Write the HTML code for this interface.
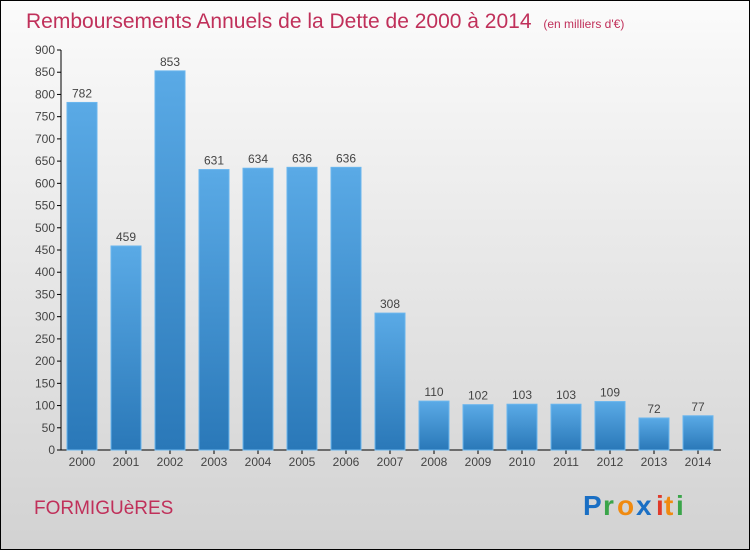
<!DOCTYPE html>
<html><head><meta charset="utf-8"><style>
body{margin:0;width:750px;height:550px;overflow:hidden;font-family:"Liberation Sans",sans-serif}
</style></head><body>
<svg width="750" height="550" xmlns="http://www.w3.org/2000/svg">
<defs>
<linearGradient id="bg" x1="0" y1="0" x2="0" y2="1"><stop offset="0" stop-color="#fbfbfb"/><stop offset="1" stop-color="#d2d2d2"/></linearGradient>
<linearGradient id="bar" x1="0" y1="0" x2="0" y2="1"><stop offset="0" stop-color="#5aaae6"/><stop offset="1" stop-color="#2a78b8"/></linearGradient>
</defs>
<rect x="0.5" y="0.5" width="749" height="549" fill="url(#bg)" stroke="#000"/>
<text x="26" y="28" font-size="21" fill="#c0305a">Remboursements Annuels de la Dette de 2000 à 2014 <tspan font-size="12" dx="6">(en milliers d'€)</tspan></text>
<g id="axes"></g><g id="bars"></g>
<text x="34" y="514" font-size="19" fill="#c0305a">FORMIGUèRES</text>
<g font-size="28" font-weight="bold">
<text x="583" y="515" fill="#1a6fc4">P</text><text x="603" y="515" fill="#3aa54a">r</text><text x="617" y="515" fill="#f08a10">o</text><text x="636" y="515" fill="#1a6fc4">x</text><text x="656" y="515" fill="#e03a2a">i</text><text x="664" y="515" fill="#f08a10">t</text><text x="676" y="515" fill="#3aa54a">i</text>
</g>
</svg>
<script>
const categories=["2000","2001","2002","2003","2004","2005","2006","2007","2008","2009","2010","2011","2012","2013","2014"];
const values=[782,459,853,631,634,636,636,308,110,102,103,103,109,72,77];
const ticks=[0,50,100,150,200,250,300,350,400,450,500,550,600,650,700,750,800,850,900];
const NS="http://www.w3.org/2000/svg";
const y=v=>450-v*400/900, x=i=>82+44*i;
function mk(t,a,p,txt){const e=document.createElementNS(NS,t);for(const k in a)e.setAttribute(k,a[k]);if(txt!==undefined)e.textContent=txt;p.appendChild(e);return e;}
const ax=document.getElementById('axes'),bg=document.getElementById('bars');
let l=mk('line',{x1:61,y1:50,x2:61,y2:450,stroke:'#000'},ax);


l=mk('line',{x1:61,y1:450,x2:721,y2:450,stroke:'#000'},ax);


ticks.forEach(t=>{
 mk('line',{x1:57,y1:y(t),x2:61,y2:y(t),stroke:'#000'},ax);
 const e=mk('text',{x:55,y:y(t)+4,'font-size':12,fill:'#444','text-anchor':'end'},ax,t);
 
 
});
categories.forEach((c,i)=>{
 const v=values[i];
 const r=mk('rect',{x:x(i)-15,y:y(v),width:30,height:450-y(v),fill:'url(#bar)',stroke:'#6ab6ee','stroke-width':1},bg);
 
 
 const t=mk('text',{x:x(i),y:y(v)-5,'font-size':12,fill:'#444','text-anchor':'middle'},bg,v);
 
 
 mk('line',{x1:x(i),y1:450,x2:x(i),y2:454,stroke:'#000'},ax);
 const xl=mk('text',{x:x(i),y:466,'font-size':12,fill:'#444','text-anchor':'middle'},ax,c);
 
 
});
</script>
</body></html>
